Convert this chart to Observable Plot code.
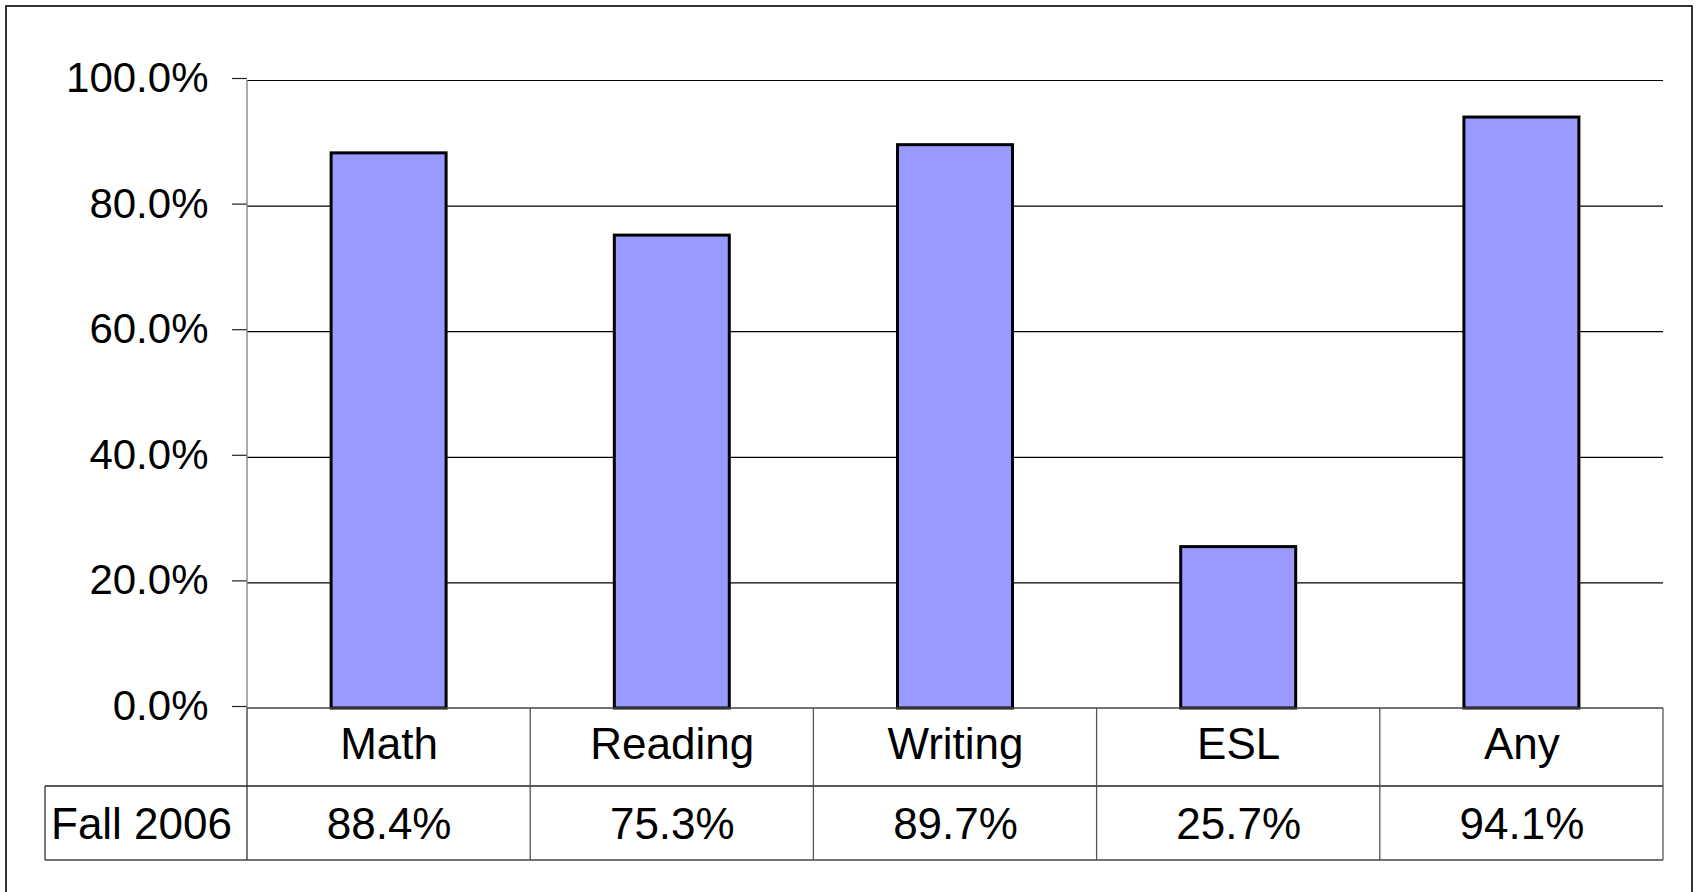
<!DOCTYPE html>
<html>
<head>
<meta charset="utf-8">
<script src="https://cdn.jsdelivr.net/npm/d3@7"></script>
<script src="https://cdn.jsdelivr.net/npm/@observablehq/plot@0.6"></script>
<style>
  html, body { margin: 0; padding: 0; background: #fff; }
  #chart svg { display: block; overflow: visible; }
</style>
</head>
<body>
<div id="chart"></div>
<script>
const categories = ["Math", "Reading", "Writing", "ESL", "Any"];
const values = [88.4, 75.3, 89.7, 25.7, 94.1];
const seriesLabel = "Fall 2006";
const yTicks = [0, 20, 40, 60, 80, 100];

const data = categories.map((c, i) => ({category: c, value: values[i]}));
const pct = v => d3.format(".1%")(v / 100);

const W = 1698, H = 892;
const FONT = "'Liberation Sans', Arial, sans-serif";
const row1 = 78, row2 = 74;

// table grid + axis line + outer border, positioned from the plot's own scales
function tableMark(index, scales, values_, dimensions) {
  const x = scales.x, y = scales.y;
  const bw = x.bandwidth();
  const step = x.step ? x.step() : bw / (1 - 0.594);
  const centers = categories.map(c => x(c) + bw / 2);
  const left = centers[0] - step / 2;
  const right = centers[centers.length - 1] + step / 2;
  const y0 = y(0), yTop = y(100);
  const yr1 = y0 + row1, yr2 = y0 + row1 + row2;
  const labelLeft = left - 202;
  const g = d3.create("svg:g").attr("fill", "none");
  // outer border
  g.append("rect").attr("x", 6).attr("y", 6)
    .attr("width", dimensions.width - 12).attr("height", dimensions.height + 20)
    .attr("stroke", "#000").attr("stroke-width", 1.6);
  // value axis line
  g.append("line").attr("x1", left).attr("x2", left).attr("y1", yTop).attr("y2", y0)
    .attr("stroke", "#808080").attr("stroke-width", 1.3);
  // horizontal table lines
  g.append("line").attr("x1", left).attr("x2", right).attr("y1", y0).attr("y2", y0)
    .attr("stroke", "#444").attr("stroke-width", 1.5);
  g.append("line").attr("x1", labelLeft).attr("x2", right).attr("y1", yr1).attr("y2", yr1)
    .attr("stroke", "#222").attr("stroke-width", 1.3);
  g.append("line").attr("x1", labelLeft).attr("x2", right).attr("y1", yr2).attr("y2", yr2)
    .attr("stroke", "#444").attr("stroke-width", 1.3);
  // vertical table lines
  const xs = [left, ...centers.map(c => c + step / 2)];
  xs.forEach((xv, i) => {
    g.append("line").attr("x1", xv).attr("x2", xv).attr("y1", y0).attr("y2", yr2)
      .attr("stroke", i === 0 ? "#333" : "#555").attr("stroke-width", 1.3);
  });
  g.append("line").attr("x1", labelLeft).attr("x2", labelLeft).attr("y1", yr1).attr("y2", yr2)
    .attr("stroke", "#333").attr("stroke-width", 1.3);
  return g.node();
}

const chart = Plot.plot({
  width: W,
  height: H,
  marginLeft: 247,
  marginRight: 35,
  marginTop: 80,
  marginBottom: 184,
  style: {fontFamily: FONT, color: "#000", background: "#fff", overflow: "visible"},
  x: {type: "band", domain: categories, paddingInner: 0.594, paddingOuter: 0.297, round: false, axis: null},
  y: {domain: [0, 100], axis: null},
  marks: [
    Plot.ruleY(yTicks.filter(t => t > 0), {stroke: "#000", strokeWidth: 1.2}),
    Plot.axisY({
      ticks: yTicks,
      tickFormat: pct,
      tickSize: 15,
      tickPadding: 24,
      fontSize: 42,
      stroke: "#222",
      strokeWidth: 1.2,
      dy: -2,
      label: null
    }),
    Plot.barY(data, {x: "category", y: "value", fill: "#9999FF", stroke: "#000", strokeWidth: 3}),
    tableMark,
    Plot.text(categories, {x: d => d, y: () => 0, dy: 36.5, fontSize: 44, fill: "#000", lineAnchor: "middle"}),
    Plot.text(data, {x: "category", y: () => 0, dy: 116, text: d => pct(d.value), fontSize: 44, fill: "#000", lineAnchor: "middle"}),
    Plot.text([seriesLabel], {frameAnchor: "bottom-left", text: d => d, dx: -106, dy: 116, fontSize: 44, fill: "#000", textAnchor: "middle", lineAnchor: "middle"})
  ]
});

document.getElementById("chart").appendChild(chart);
</script>
</body>
</html>
